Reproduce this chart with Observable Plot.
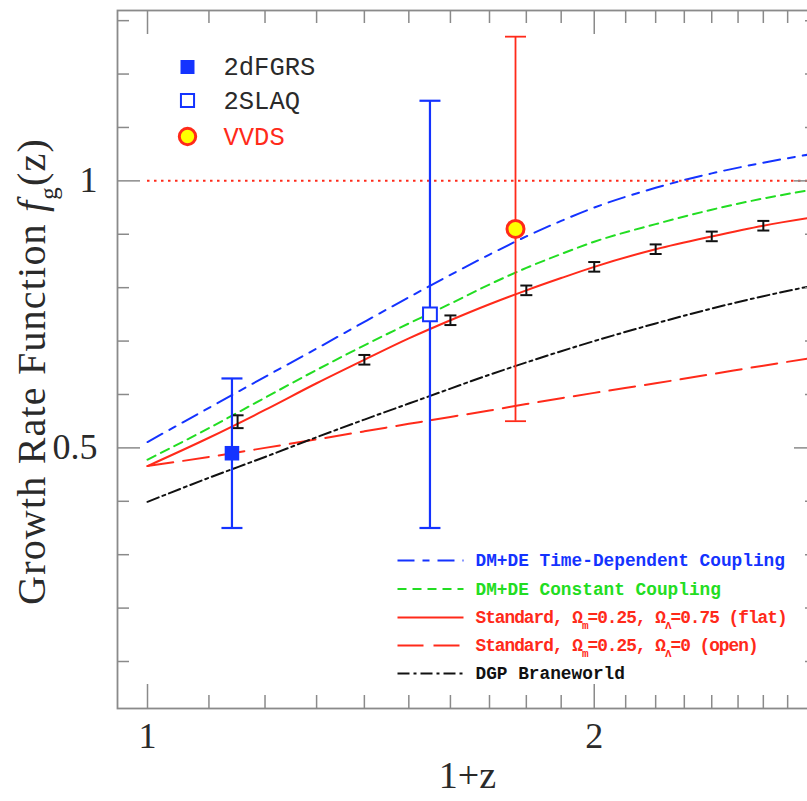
<!DOCTYPE html>
<html><head><meta charset="utf-8">
<script src="https://cdn.jsdelivr.net/npm/d3@7"></script>
<script src="https://cdn.jsdelivr.net/npm/@observablehq/plot@0.6"></script>
<style>
html,body{margin:0;padding:0;background:#fff;overflow:hidden}
#chart svg{display:block}
</style></head><body><div id="chart"></div>
<script>
// ---------- data ----------
const zGrid      = [1.0, 1.1, 1.2, 1.3, 1.4, 1.5, 1.6, 1.7, 1.8, 1.9, 2.0, 2.2, 2.4, 2.6, 2.8];
const fTimeDep   = [0.511,0.575,0.633,0.686,0.736,0.782,0.824,0.862,0.896,0.925,0.950,0.987,1.014,1.034,1.050];
const fConstant  = [0.478,0.537,0.594,0.646,0.692,0.733,0.770,0.806,0.837,0.863,0.886,0.919,0.946,0.967,0.983];
const fFlat      = [0.466,0.519,0.571,0.621,0.665,0.705,0.739,0.769,0.795,0.818,0.839,0.872,0.896,0.916,0.931];
const fOpen      = [0.466,0.483,0.500,0.516,0.531,0.545,0.558,0.570,0.582,0.593,0.603,0.621,0.638,0.654,0.668];
const fDGP       = [0.399,0.444,0.483,0.520,0.553,0.583,0.611,0.637,0.660,0.681,0.700,0.733,0.761,0.784,0.803];

const seriesNames = ["DM+DE Time-Dependent Coupling", "DM+DE Constant Coupling",
  "Standard, Ω_{m}=0.25, Ω_{Λ}=0.75 (flat)", "Standard, Ω_{m}=0.25, Ω_{Λ}=0 (open)", "DGP Braneworld"];

const simZ   = [1.15, 1.4, 1.6, 1.8, 2.0, 2.2, 2.4, 2.6];
const simF   = [0.549,0.665,0.739,0.795,0.839,0.872,0.896,0.916];
const simErr = [0.012,0.009,0.009,0.009,0.009,0.009,0.009,0.009];

const obsNames = ["2dFGRS", "2SLAQ", "VVDS"];
const obsZ  = [1.14, 1.55, 1.77];
const obsF  = [0.49, 0.75, 0.91];
const obsLo = [0.35, 0.35, 0.55];
const obsHi = [0.63, 1.15, 1.27];

const xMajorTicks = [1, 2];
const xMinorTicks = [1.1,1.2,1.3,1.4,1.5,1.6,1.7,1.8,1.9,2.1,2.2,2.3,2.4,2.5,2.6,2.7,2.8];
const yMajorTicks = [0.5, 1];
const yMinorTicks = [0.1,0.2,0.3,0.4,0.6,0.7,0.8,0.9,1.1,1.2,1.3];

// ---------- styles ----------
const W = 807, H = 801;
const mL = 117, mR = -10, mT = 10, mB = 93;
const plotW = W - mL - mR, plotH = H - mT - mB;
const serif = "'Liberation Serif', 'DejaVu Serif', serif";
const mono = "'Liberation Mono', 'DejaVu Sans Mono', monospace";
const BLUE = "#1433ff", GREEN = "#22dd22", RED = "#ff2a1a", BLACK = "#111111", AXIS = "#8a8a8a", TEXT = "#2a2a2a";

const seriesStyle = [
  {values: fTimeDep,  color: BLUE,  dash: "17,8,7,8"},
  {values: fConstant, color: GREEN, dash: "9,6"},
  {values: fFlat,     color: RED,   dash: null},
  {values: fOpen,     color: RED,   dash: "26,10"},
  {values: fDGP,      color: BLACK, dash: "12,4,3,4"}
];

const hLine = (half) => ({draw(ctx){ ctx.moveTo(-half, 0); ctx.lineTo(half, 0); }});
const legLine = (len) => ({draw(ctx){ ctx.moveTo(0, 0); ctx.lineTo(len, 0); }});

const sim = simZ.map((z, i) => ({z, f: simF[i], lo: simF[i] - simErr[i], hi: simF[i] + simErr[i]}));
const obs = obsNames.map((n, i) => ({name: n, z: obsZ[i], f: obsF[i], lo: obsLo[i], hi: obsHi[i]}));

const marks = [];

// model curves
seriesStyle.forEach(s => {
  const rows = zGrid.map((z, i) => ({z, f: s.values[i]}));
  marks.push(Plot.line(rows, {x: "z", y: "f", stroke: s.color, strokeWidth: 2,
    strokeDasharray: s.dash, curve: "monotone-x", clip: true}));
});

// f = 1 reference
marks.push(Plot.ruleY([1], {x1: 1, x2: 3, stroke: RED, strokeWidth: 2, strokeDasharray: "2.5,4.5", clip: true}));

// simulated points with small error bars
marks.push(Plot.ruleX(sim, {x: "z", y1: "lo", y2: "hi", stroke: BLACK, strokeWidth: 2}));
marks.push(Plot.dot(sim, {x: "z", y: "lo", symbol: hLine(6), fill: "none", stroke: BLACK, strokeWidth: 2}));
marks.push(Plot.dot(sim, {x: "z", y: "hi", symbol: hLine(6), fill: "none", stroke: BLACK, strokeWidth: 2}));

// observations
const obsColor = [BLUE, BLUE, RED];
obs.forEach((o, i) => {
  const sw = i === 2 ? 1.8 : 2.2;
  marks.push(Plot.ruleX([o], {x: "z", y1: "lo", y2: "hi", stroke: obsColor[i], strokeWidth: sw}));
  marks.push(Plot.dot([o], {x: "z", y: "lo", symbol: hLine(10.5), fill: "none", stroke: obsColor[i], strokeWidth: sw}));
  marks.push(Plot.dot([o], {x: "z", y: "hi", symbol: hLine(10.5), fill: "none", stroke: obsColor[i], strokeWidth: sw}));
});
marks.push(Plot.dot([obs[0]], {x: "z", y: "f", symbol: "square", r: 8.2, fill: BLUE, stroke: "none"}));
marks.push(Plot.dot([obs[1]], {x: "z", y: "f", symbol: "square", r: 7.8, fill: "white", stroke: BLUE, strokeWidth: 2}));
marks.push(Plot.dot([obs[2]], {x: "z", y: "f", symbol: "circle", r: 8.5, fill: "#ffff00", stroke: RED, strokeWidth: 3}));

// top-left legend (observations)
const obsLegDy = [56.5, 90, 126];
const obsSym = [
  {symbol: "square", r: 7.9, fill: BLUE, stroke: "none", strokeWidth: 0},
  {symbol: "square", r: 7.4, fill: "white", stroke: BLUE, strokeWidth: 2},
  {symbol: "circle", r: 8.2, fill: "#ffff00", stroke: RED, strokeWidth: 3}
];
const obsTextColor = [TEXT, TEXT, RED];
obsNames.forEach((n, i) => {
  marks.push(Plot.dot([n], {frameAnchor: "top-left", dx: 70, dy: obsLegDy[i], ...obsSym[i]}));
  marks.push(Plot.text([n], {frameAnchor: "top-left", dx: 106, dy: obsLegDy[i], text: d => d,
    textAnchor: "start", lineAnchor: "middle", fontFamily: mono, fontSize: 25.5, fill: obsTextColor[i]}));
});

// bottom-right legend (models)
const modLegDy = [550, 578.5, 607, 635, 663];
seriesNames.forEach((n, i) => {
  const s = seriesStyle[i];
  marks.push(Plot.dot([n], {frameAnchor: "top-left", dx: 280, dy: modLegDy[i], symbol: legLine(66),
    fill: "none", stroke: s.color, strokeWidth: 2, strokeDasharray: s.dash}));
  marks.push(Plot.text([n], {frameAnchor: "top-left", dx: 358, dy: modLegDy[i], text: d => d,
    textAnchor: "start", lineAnchor: "middle", fontFamily: mono, fontWeight: "bold", fontSize: 17.8, fill: s.color}));
});

// ticks (inward, all four sides)
marks.push(Plot.tickX(xMinorTicks, {x: d => d, insetTop: plotH - 13, stroke: AXIS, strokeWidth: 1.5}));
marks.push(Plot.tickX(xMinorTicks, {x: d => d, insetBottom: plotH - 13, stroke: AXIS, strokeWidth: 1.5}));
marks.push(Plot.tickX(xMajorTicks, {x: d => d, insetTop: plotH - 24, stroke: AXIS, strokeWidth: 1.5}));
marks.push(Plot.tickX(xMajorTicks, {x: d => d, insetBottom: plotH - 24, stroke: AXIS, strokeWidth: 1.5}));
marks.push(Plot.tickY(yMinorTicks, {y: d => d, insetRight: plotW - 12, stroke: AXIS, strokeWidth: 1.5}));
marks.push(Plot.tickY(yMinorTicks, {y: d => d, insetLeft: plotW - 12, stroke: AXIS, strokeWidth: 1.5}));
marks.push(Plot.tickY(yMajorTicks, {y: d => d, insetRight: plotW - 23, stroke: AXIS, strokeWidth: 1.5}));
marks.push(Plot.tickY(yMajorTicks, {y: d => d, insetLeft: plotW - 23, stroke: AXIS, strokeWidth: 1.5}));
marks.push(Plot.frame({stroke: AXIS, strokeWidth: 1.8}));

// tick labels and axis titles
marks.push(Plot.axisX({ticks: xMajorTicks, tickSize: 0, tickPadding: 14, fontSize: 36, fontFamily: serif,
  color: TEXT, label: null, tickFormat: d => String(d)}));
marks.push(Plot.axisY({ticks: yMajorTicks, tickSize: 0, tickPadding: 20, fontSize: 36, fontFamily: serif,
  color: TEXT, label: null, tickFormat: d => String(d)}));
marks.push(Plot.text(["1+z"], {frameAnchor: "bottom", dy: 67, text: d => d, lineAnchor: "middle",
  fontSize: 38, fontFamily: serif, fill: TEXT}));
marks.push(Plot.text(["Growth Rate Function *{f}_{g}(z)"], {frameAnchor: "left", dx: -85, dy: 12, rotate: -90,
  text: d => d, textAnchor: "middle", lineAnchor: "middle", fontSize: 40, fontFamily: serif, fill: TEXT}));

const chart = Plot.plot({
  width: W, height: H,
  marginLeft: mL, marginRight: mR, marginTop: mT, marginBottom: mB,
  style: {background: "white", overflow: "hidden"},
  x: {type: "log", domain: [0.9545, 2.828]},
  y: {type: "linear", domain: [0.012, 1.319]},
  marks
});

// rich text: *{..} italic, _{..} subscript
function richify(svg) {
  svg.querySelectorAll("text").forEach(t => {
    const s = t.textContent;
    if (!/[_*]\{/.test(s)) return;
    const fs = parseFloat(getComputedStyle(t).fontSize) || 16;
    const shift = fs * 0.3;
    const parts = s.split(/([_*]\{[^}]*\})/).filter(p => p.length);
    while (t.firstChild) t.removeChild(t.firstChild);
    let low = false;
    parts.forEach(p => {
      const ts = document.createElementNS("http://www.w3.org/2000/svg", "tspan");
      if (p.startsWith("_{")) {
        ts.textContent = p.slice(2, -1);
        ts.setAttribute("font-size", (fs * 0.62) + "px");
        if (!low) ts.setAttribute("dy", shift);
        low = true;
      } else {
        if (p.startsWith("*{")) { ts.textContent = p.slice(2, -1); ts.setAttribute("font-style", "italic"); }
        else ts.textContent = p;
        if (low) ts.setAttribute("dy", -shift);
        low = false;
      }
      t.appendChild(ts);
    });
    if (s.startsWith("Growth")) t.setAttribute("letter-spacing", "1.2px");
    if (s.startsWith("Standard")) t.setAttribute("letter-spacing", "-1px");
  });
}
document.getElementById("chart").appendChild(chart);
richify(chart);
</script>
</body></html>
